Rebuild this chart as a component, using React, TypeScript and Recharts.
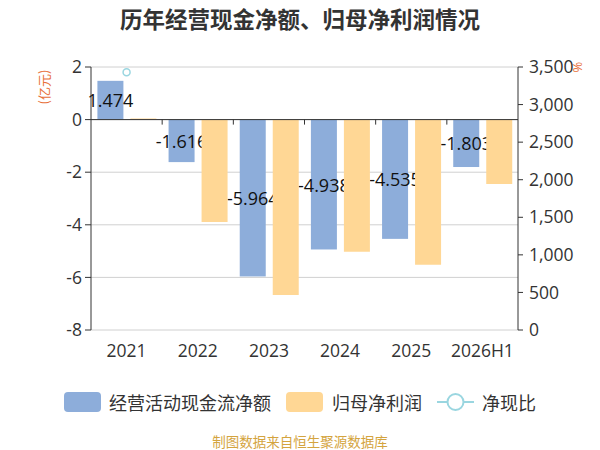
import React from "react";
import {
  ComposedChart,
  Bar,
  Line,
  XAxis,
  YAxis,
  CartesianGrid,
  ReferenceLine,
} from "recharts";

const categories = ["2021", "2022", "2023", "2024", "2025", "2026H1"];
const cashFlow = [1.474, -1.616, -5.964, -4.938, -4.535, -1.803];
const netProfit = [0.043, -3.89, -6.67, -5.02, -5.52, -2.45];
const cashRatio: (number | null)[] = [3430, null, null, null, null, null];
const leftTicks = [-8, -6, -4, -2, 0, 2];
const rightTicks = [0, 500, 1000, 1500, 2000, 2500, 3000, 3500];

const data = categories.map((c, i) => ({
  name: c,
  cash: cashFlow[i],
  profit: netProfit[i],
  ratio: cashRatio[i],
}));

const FONT = "'Open Sans', 'Noto Sans CJK SC', sans-serif";
const CJK = "'Noto Sans CJK SC', sans-serif";
const BLUE = "#8dadda";
const ORANGE = "#ffd795";
const CYAN = "#9ad6e0";
const AXIS = "#333";
const TICK_FS = 17.5;

const ZeroLine = (props: any) => {
  const { x1, x2, y1 } = props;
  const n = categories.length;
  const step = (x2 - x1) / n;
  const ticks = [];
  for (let i = 1; i < n; i++) {
    const x = x1 + step * i;
    ticks.push(<line key={i} x1={x} x2={x} y1={y1} y2={y1 + 5} stroke={AXIS} strokeWidth={1} />);
  }
  return (
    <g>
      <line x1={x1} x2={x2} y1={y1} y2={y1} stroke={AXIS} strokeWidth={1} />
      {ticks}
    </g>
  );
};

const CashBar = (props: any) => {
  const { x, y, width, height, payload } = props;
  const top = Math.min(y, y + height);
  const h = Math.abs(height);
  const cy = y + height / 2;
  return (
    <g>
      <rect x={x} y={top} width={width} height={h} fill={BLUE} />
      <text
        x={x + width / 2}
        y={cy}
        textAnchor="middle"
        dominantBaseline="central"
        fontSize={18}
        fontFamily={FONT}
        fill="#111"
      >
        {Number(payload.cash).toFixed(3)}
      </text>
    </g>
  );
};

const fmt = (v: number) => v.toLocaleString("en-US");

export default function App() {
  return (
    <div
      style={{
        position: "absolute",
        left: 0,
        top: 0,
        width: 600,
        height: 450,
        background: "#fff",
        fontFamily: FONT,
        overflow: "hidden",
      }}
    >
      <div
        style={{
          position: "absolute",
          left: 0,
          top: 3,
          width: 600,
          textAlign: "center",
          fontSize: 22.5,
          fontWeight: "bold",
          color: "#333",
          fontFamily: CJK,
          lineHeight: "30px",
        }}
      >
        历年经营现金净额、归母净利润情况
      </div>
      <div
        style={{
          position: "absolute",
          left: 44 - 25,
          top: 87 - 8,
          width: 50,
          height: 16,
          lineHeight: "16px",
          textAlign: "center",
          fontSize: 13,
          color: "#e8703a",
          transform: "rotate(-90deg)",
          fontFamily: CJK,
        }}
      >
        (亿元)
      </div>
      <div
        style={{
          position: "absolute",
          left: 569,
          top: 59,
          width: 16,
          height: 16,
          lineHeight: "16px",
          textAlign: "center",
          fontSize: 13,
          color: "#e8703a",
          transform: "rotate(-90deg)",
        }}
      >
        %
      </div>
      <div style={{ position: "absolute", left: 0, top: 0 }}>
        <ComposedChart
          width={600}
          height={450}
          data={data}
          margin={{ top: 67, right: 20, bottom: 90, left: 41 }}
          barCategoryGap="9%"
          barGap={7}
        >
          <CartesianGrid vertical={false} stroke="#d0d0d0" yAxisId="left" />
          <XAxis
            dataKey="name"
            axisLine={false}
            tickLine={false}
            tickMargin={9}
            height={30}
            tick={{ fill: AXIS, fontSize: TICK_FS, fontFamily: FONT }}
            interval={0}
          />
          <YAxis
            yAxisId="left"
            domain={[-8, 2]}
            ticks={leftTicks}
            width={50}
            axisLine={{ stroke: AXIS }}
            tickLine={{ stroke: AXIS }}
            tickSize={6}
            tickMargin={3}
            tick={{ fill: AXIS, fontSize: TICK_FS, fontFamily: FONT }}
            interval={0}
          />
          <YAxis
            yAxisId="right"
            orientation="right"
            domain={[0, 3500]}
            ticks={rightTicks}
            width={62}
            axisLine={{ stroke: AXIS }}
            tickLine={{ stroke: AXIS }}
            tickSize={5}
            tickMargin={6}
            tickFormatter={fmt}
            tick={{ fill: AXIS, fontSize: TICK_FS, fontFamily: FONT }}
            interval={0}
          />
          <ReferenceLine y={0} yAxisId="left" shape={ZeroLine} />
          <Bar dataKey="cash" yAxisId="left" fill={BLUE} shape={CashBar} isAnimationActive={false} />
          <Bar dataKey="profit" yAxisId="left" fill={ORANGE} isAnimationActive={false} />
          <Line
            dataKey="ratio"
            yAxisId="right"
            stroke={CYAN}
            strokeWidth={2}
            dot={{ r: 3.5, stroke: CYAN, strokeWidth: 1.5, fill: "#fff" }}
            isAnimationActive={false}
            connectNulls={false}
          />
        </ComposedChart>
      </div>
      <div
        style={{
          position: "absolute",
          left: 0,
          top: 390,
          width: 600,
          height: 24,
          fontSize: 18,
          color: "#333",
          fontFamily: CJK,
        }}
      >
        <div style={{ position: "absolute", left: 64, top: 2, width: 37, height: 20, borderRadius: 4, background: BLUE }} />
        <div style={{ position: "absolute", left: 109, top: 0, lineHeight: "24px" }}>经营活动现金流净额</div>
        <div style={{ position: "absolute", left: 286, top: 2, width: 37, height: 20, borderRadius: 4, background: ORANGE }} />
        <div style={{ position: "absolute", left: 332, top: 0, lineHeight: "24px" }}>归母净利润</div>
        <svg style={{ position: "absolute", left: 436, top: 0 }} width={40} height={24}>
          <line x1={1} x2={38} y1={12} y2={12} stroke={CYAN} strokeWidth={2} />
          <circle cx={19.5} cy={12} r={8} fill="#fff" stroke={CYAN} strokeWidth={2} />
        </svg>
        <div style={{ position: "absolute", left: 482, top: 0, lineHeight: "24px" }}>净现比</div>
      </div>
      <div
        style={{
          position: "absolute",
          left: 0,
          top: 432,
          width: 600,
          textAlign: "center",
          fontSize: 13.5,
          color: "#d4a43e",
          fontFamily: CJK,
          lineHeight: "18px",
        }}
      >
        制图数据来自恒生聚源数据库
      </div>
    </div>
  );
}
